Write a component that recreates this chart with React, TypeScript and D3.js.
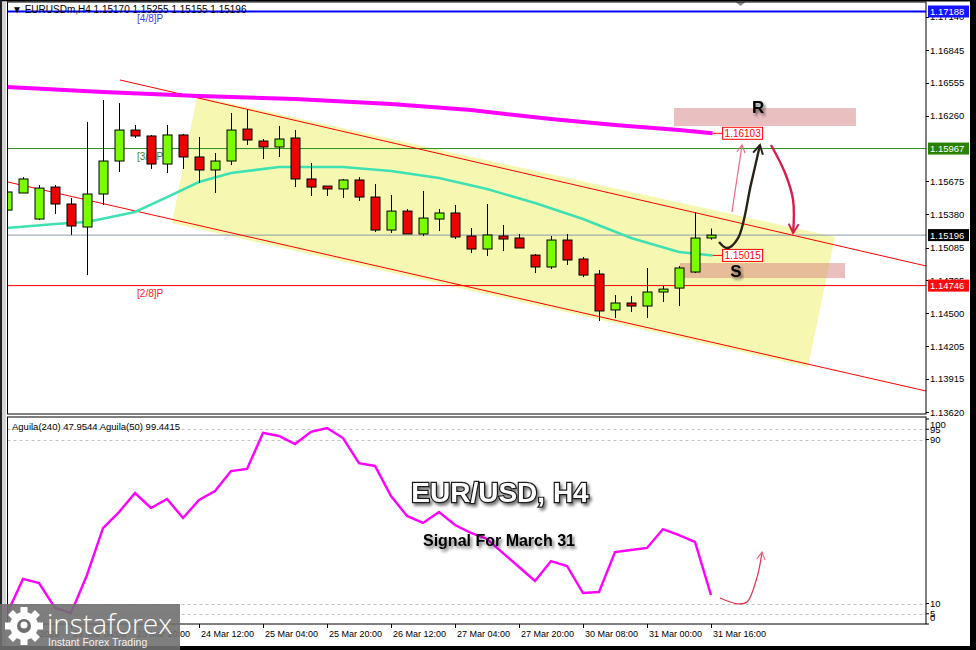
import { scaleLinear, line, curveCatmullRom, curveLinear } from 'd3';

// OHLC per H4 bar, 20 Mar 2020 .. 31 Mar 16:00
const candles: [number, number, number, number][] = [
  [1.15419, 1.15713, 1.15402, 1.1558],
  [1.15571, 1.15713, 1.15571, 1.15696],
  [1.15339, 1.15642, 1.1533, 1.15615],
  [1.15624, 1.15642, 1.15384, 1.15473],
  [1.15473, 1.15526, 1.15197, 1.15277],
  [1.15268, 1.16204, 1.1484, 1.15562],
  [1.15562, 1.164, 1.15464, 1.15856],
  [1.15856, 1.16372, 1.15758, 1.16132],
  [1.16132, 1.16177, 1.16061, 1.16079],
  [1.16079, 1.16088, 1.15785, 1.15829],
  [1.15829, 1.16177, 1.15749, 1.16088],
  [1.16088, 1.16097, 1.15785, 1.15892],
  [1.15892, 1.1607, 1.1566, 1.15776],
  [1.15776, 1.15927, 1.15571, 1.15856],
  [1.15856, 1.16284, 1.1582, 1.16132],
  [1.16141, 1.16319, 1.15999, 1.16043],
  [1.16034, 1.16052, 1.15874, 1.15981],
  [1.15981, 1.16168, 1.15892, 1.16052],
  [1.16061, 1.16132, 1.15624, 1.15696],
  [1.15696, 1.15838, 1.15544, 1.15624],
  [1.15633, 1.15633, 1.15544, 1.15607],
  [1.15607, 1.15696, 1.15526, 1.15687],
  [1.15687, 1.15713, 1.155, 1.15535],
  [1.15535, 1.15651, 1.15223, 1.15241],
  [1.15241, 1.15553, 1.15215, 1.1541],
  [1.1541, 1.15428, 1.15206, 1.15206],
  [1.15206, 1.15589, 1.15188, 1.15348],
  [1.15339, 1.15428, 1.15232, 1.15393],
  [1.15393, 1.15464, 1.15161, 1.15179],
  [1.15188, 1.15259, 1.15036, 1.15072],
  [1.15072, 1.15473, 1.1501, 1.15197],
  [1.15188, 1.15286, 1.15054, 1.15161],
  [1.1517, 1.15206, 1.15081, 1.15081],
  [1.15018, 1.15027, 1.14858, 1.14912],
  [1.14912, 1.15188, 1.14894, 1.15152],
  [1.15152, 1.15206, 1.1493, 1.14974],
  [1.14983, 1.15001, 1.14822, 1.1484],
  [1.14849, 1.14885, 1.1443, 1.1452],
  [1.14529, 1.14662, 1.14457, 1.14591],
  [1.14591, 1.14653, 1.14511, 1.14564],
  [1.14564, 1.14903, 1.14457, 1.14689],
  [1.14689, 1.14742, 1.146, 1.14715],
  [1.14724, 1.14921, 1.14564, 1.14903],
  [1.14867, 1.15402, 1.14858, 1.1517],
  [1.1517, 1.15255, 1.15155, 1.15196],
];

// slow MA (magenta) and fast MA (teal), [bar, price]
const slowMa: [number, number][] = [
  [0, 1.16515], [6, 1.16471], [12, 1.16435], [18, 1.16408], [24, 1.16364],
  [29, 1.1631], [34, 1.1623], [38, 1.16177], [42, 1.16132], [44.1, 1.16103],
];
const fastMa: [number, number][] = [
  [0, 1.15259], [3, 1.15295], [5, 1.15312], [8, 1.15402], [10, 1.15535],
  [12, 1.15669], [14, 1.15749], [17, 1.15803], [21, 1.15803], [24, 1.15767],
  [27, 1.15705], [30, 1.15607], [33, 1.15482], [36, 1.15339], [39, 1.1517],
  [42, 1.15045], [44.1, 1.15015],
];

// Aguila oscillator per bar
const aguila = [
  5, 22, 20, 7.8, 5.4, 23.9, 46.8, 54.6, 63.9, 56.6, 61, 51.7, 60.5, 64.9, 74.6,
  75.6, 93.2, 91.7, 87.8, 93.7, 95.6, 90.7, 78.5, 77.1, 62.4, 52.7, 49.3, 54.6,
  48.3, 44.4, 41.5, 34.6, 27.8, 21, 30.7, 28.3, 15.1, 15.6, 35.1, 36.1, 37.1,
  46.3, 43.4, 40, 14.1,
];

const timeLabels = [
  '20 Mar 2020', '23 Mar 04:00', '23 Mar 20:00', '24 Mar 12:00', '25 Mar 04:00',
  '25 Mar 20:00', '26 Mar 12:00', '27 Mar 04:00', '27 Mar 20:00', '30 Mar 08:00',
  '31 Mar 00:00', '31 Mar 16:00',
];
const priceTicks = [
  1.1714, 1.16845, 1.16555, 1.1626, 1.15675, 1.1538, 1.15085, 1.14795, 1.145,
  1.14205, 1.13915, 1.1362,
];
const oscTicks = [100, 95, 90, 10, 5, 0];
const oscLevels = [95, 90, 10, 5];

// horizontal levels: murrey 4/8, 3/8, bid, 2/8
const levelPrices = [1.17188, 1.15967, 1.15196, 1.14746];
const levelNames = ['[4/8]P', '[3/8]P', '', '[2/8]P'];
const LEVEL_LINE = ['#0000ff', '#2f8f1f', '#8a99a6', '#ff0000'];
const LEVEL_BOX = ['#1414ff', '#2a8200', '#000000', '#ff0a0a'];
const LEVEL_TEXT = ['#3c3cff', '#3a8a1a', '', '#ff2020'];

// channel, [bar, price]
const upperChannel: [number, number][] = [[7.06, 1.16578], [57.44, 1.14921]];
const lowerChannel: [number, number][] = [[0.06, 1.15669], [57.44, 1.13807]];
const channelFill: [number, number][] = [
  [11.88, 1.16435], [51.75, 1.15179], [50.06, 1.14021], [10.31, 1.15304],
];
const resistanceZone = [41.69, 53.06, 1.16168, 1.16328];
const supportZone = [42.06, 52.38, 1.14813, 1.14947];

const pinkArrow: [number, number][] = [[45.31, 1.15402], [45.94, 1.15999]];
const blackArrow: [number, number][] = [
  [44.5, 1.15134], [45.0, 1.15081], [45.69, 1.1517], [46.5, 1.1565], [47.06, 1.15999],
];
const redArrow: [number, number][] = [
  [47.75, 1.15999], [48.63, 1.15749], [49.13, 1.15509], [49.13, 1.15215],
];
const oscArrow: [number, number][] = [
  [44.56, 12.7], [45.69, 9.8], [46.25, 10.7], [46.88, 22.9], [47.19, 35.1],
];

const LEFT = 7.5;
const RIGHT = 926;
const MAIN_TOP = 2;
const MAIN_BOTTOM = 414;
const OSC_TOP = 417;
const OSC_BOTTOM = 624;
const FONT = '"Liberation Sans", Arial, sans-serif';

export default function App() {
  const x = scaleLinear().domain([0, 44]).range([7, 711]);
  const y = scaleLinear().domain([1.1362, 1.16845]).range([412, 50]);
  const yo = scaleLinear().domain([0, 100]).range([624, 419]);
  const priceLine = line<[number, number]>()
    .x((d) => x(d[0]))
    .y((d) => y(d[1]));
  const priceCurve = line<[number, number]>()
    .x((d) => x(d[0]))
    .y((d) => y(d[1]))
    .curve(curveCatmullRom);
  const oscLine = line<number>()
    .x((_d, i) => x(i))
    .y((d) => yo(d))
    .curve(curveLinear);
  const oscCurve = line<[number, number]>()
    .x((d) => x(d[0]))
    .y((d) => yo(d[1]))
    .curve(curveCatmullRom);

  const slowEnd = slowMa[slowMa.length - 1];
  const fastEnd = fastMa[fastMa.length - 1];
  const endX = x(slowEnd[0]);

  const bodyW = 9;

  return (
    <div style={{ position: 'absolute', left: 0, top: 0 }}>
      <svg width={976} height={650} style={{ display: 'block', fontFamily: FONT }}>
        <defs>
          <clipPath id="mainClip">
            <rect x={LEFT} y={MAIN_TOP} width={RIGHT - LEFT} height={MAIN_BOTTOM - MAIN_TOP} />
          </clipPath>
          <clipPath id="oscClip">
            <rect x={LEFT} y={OSC_TOP} width={RIGHT - LEFT} height={OSC_BOTTOM - OSC_TOP} />
          </clipPath>
          <filter id="shadow" x="-20%" y="-40%" width="140%" height="180%">
            <feDropShadow dx="2" dy="2.5" stdDeviation="1.4" floodColor="#000" floodOpacity="0.55" />
          </filter>
          <marker id="headBlack" viewBox="0 0 12 12" refX="10" refY="6" markerWidth="12" markerHeight="12" markerUnits="userSpaceOnUse" orient="auto">
            <path d="M1,1 L10,6 L1,11" fill="none" stroke="#2a2418" strokeWidth={2} />
          </marker>
          <marker id="headRed" viewBox="0 0 12 12" refX="10" refY="6" markerWidth="12" markerHeight="12" markerUnits="userSpaceOnUse" orient="auto">
            <path d="M1,1 L10,6 L1,11" fill="none" stroke="#d81e4a" strokeWidth={2} />
          </marker>
          <marker id="headPink" viewBox="0 0 12 12" refX="10" refY="6" markerWidth="10" markerHeight="10" markerUnits="userSpaceOnUse" orient="auto">
            <path d="M1,1 L10,6 L1,11" fill="none" stroke="#ee6a84" strokeWidth={1.4} />
          </marker>
        </defs>

        {/* window frame */}
        <rect x={0} y={0} width={976} height={650} fill="#fff" />
        <rect x={0} y={0} width={976} height={1.5} fill="#000" />
        <rect x={0} y={0} width={2} height={650} fill="#222" />
        <rect x={2} y={1.5} width={4} height={645} fill="#d4d4d4" />
        <rect x={970} y={0} width={6} height={650} fill="#000" />
        <rect x={0} y={646} width={976} height={4} fill="#000" />
        <path d="M735,1.5 L746,1.5 L740.5,6 Z" fill="#8a8a8a" />

        {/* main pane */}
        <g clipPath="url(#mainClip)">
          <polygon
            points={channelFill.map((d) => `${x(d[0])},${y(d[1])}`).join(' ')}
            fill="#f6f8b2"
          />
          {levelPrices.map((p, i) => (
            <line key={`lv${i}`} x1={LEFT} x2={RIGHT} y1={y(p)} y2={y(p)} stroke={LEVEL_LINE[i]} strokeWidth={i === 0 ? 2 : 1} />
          ))}
          {levelNames.map((n, i) =>
            n ? (
              <text key={`ln${i}`} x={x(8.13)} y={y(levelPrices[i]) + 11} fontSize={10} fill={LEVEL_TEXT[i]}>
                {n}
              </text>
            ) : null,
          )}
          <rect
            x={x(resistanceZone[0])}
            y={y(resistanceZone[3])}
            width={x(resistanceZone[1]) - x(resistanceZone[0])}
            height={y(resistanceZone[2]) - y(resistanceZone[3])}
            fill="rgba(214,128,128,0.5)"
          />
          <rect
            x={x(supportZone[0])}
            y={y(supportZone[3])}
            width={x(supportZone[1]) - x(supportZone[0])}
            height={y(supportZone[2]) - y(supportZone[3])}
            fill="rgba(214,128,128,0.5)"
          />
          <path d={priceLine(upperChannel) ?? ''} fill="none" stroke="#ff0000" strokeWidth={1} />
          <path d={priceLine(lowerChannel) ?? ''} fill="none" stroke="#ff0000" strokeWidth={1} />
          <path d={priceLine(slowMa) ?? ''} fill="none" stroke="#ff00ff" strokeWidth={4} />
          <path d={priceLine(fastMa) ?? ''} fill="none" stroke="#3fe0b2" strokeWidth={2.5} />

          {candles.map(([o, h, l, c], i) => {
            const cx = Math.round(x(i));
            const top = y(Math.max(o, c));
            const bot = y(Math.min(o, c));
            return (
              <g key={`c${i}`}>
                <line x1={cx + 0.5} x2={cx + 0.5} y1={y(h)} y2={y(l)} stroke="#000" strokeWidth={1} />
                <rect
                  x={cx - bodyW / 2 + 0.5}
                  y={top}
                  width={bodyW}
                  height={Math.max(bot - top, 1.5)}
                  fill={c >= o ? '#7cfc00' : '#ee0000'}
                  stroke="#000"
                  strokeWidth={1}
                />
              </g>
            );
          })}

          {/* MA end labels */}
          <line x1={endX} x2={endX + 10} y1={y(slowEnd[1])} y2={y(slowEnd[1])} stroke="#ff0000" />
          <rect x={endX + 10} y={y(slowEnd[1]) - 6} width={40} height={12} fill="#fff" stroke="#ff0000" />
          <text x={endX + 12} y={y(slowEnd[1]) + 4} fontSize={10} fill="#ff0000">{slowEnd[1].toFixed(5)}</text>
          <line x1={endX} x2={endX + 10} y1={y(fastEnd[1])} y2={y(fastEnd[1])} stroke="#ff0000" />
          <rect x={endX + 10} y={y(fastEnd[1]) - 6} width={40} height={12} fill="#fff" stroke="#ff0000" />
          <text x={endX + 12} y={y(fastEnd[1]) + 4} fontSize={10} fill="#ff0000">{fastEnd[1].toFixed(5)}</text>

          {/* forecast arrows */}
          <path d={priceLine(pinkArrow) ?? ''} fill="none" stroke="#ee6a84" strokeWidth={1.2} markerEnd="url(#headPink)" />
          <path d={priceCurve(blackArrow) ?? ''} fill="none" stroke="#2a2418" strokeWidth={2.4} markerEnd="url(#headBlack)" />
          <path d={priceCurve(redArrow) ?? ''} fill="none" stroke="#d81e4a" strokeWidth={2.4} markerEnd="url(#headRed)" />

          <text x={x(46.94)} y={y(1.16284)} fontSize={17} fontWeight="bold" textAnchor="middle" filter="url(#shadow)">R</text>
          <text x={x(45.56)} y={y(1.14822)} fontSize={17} fontWeight="bold" textAnchor="middle" filter="url(#shadow)">S</text>
        </g>
        <rect x={LEFT} y={MAIN_TOP} width={RIGHT - LEFT} height={MAIN_BOTTOM - MAIN_TOP} fill="none" stroke="#000" />
        <text x={12} y={13} fontSize={10} fill="#000">▼ EURUSDm,H4  1.15170 1.15255 1.15155 1.15196</text>

        {/* price axis */}
        {priceTicks.map((p) => (
          <g key={`pt${p}`}>
            <line x1={RIGHT} x2={RIGHT + 3} y1={Math.round(y(p)) + 0.5} y2={Math.round(y(p)) + 0.5} stroke="#000" />
            <text x={RIGHT + 4} y={y(p) + 3.5} fontSize={9.5} fill="#000">{p.toFixed(5)}</text>
          </g>
        ))}
        {levelPrices.map((p, i) => (
          <g key={`lb${i}`}>
            <rect x={RIGHT + 2} y={y(p) - 6} width={41} height={12} fill={LEVEL_BOX[i]} />
            <text x={RIGHT + 4} y={y(p) + 3.5} fontSize={9.5} fill="#fff">{p.toFixed(5)}</text>
          </g>
        ))}

        {/* oscillator pane */}
        <g clipPath="url(#oscClip)">
          {oscLevels.map((v) => (
            <line key={`ol${v}`} x1={LEFT} x2={RIGHT} y1={Math.round(yo(v)) + 0.5} y2={Math.round(yo(v)) + 0.5} stroke="#c4c4c4" strokeDasharray="3,3" />
          ))}
          <path d={oscLine(aguila) ?? ''} fill="none" stroke="#ff00ff" strokeWidth={2.4} />
          <path d={oscCurve(oscArrow) ?? ''} fill="none" stroke="#e0304a" strokeWidth={1.2} markerEnd="url(#headPink)" />
        </g>
        <rect x={LEFT} y={OSC_TOP} width={RIGHT - LEFT} height={OSC_BOTTOM - OSC_TOP} fill="none" stroke="#000" />
        <text x={12} y={430} fontSize={9.5} fill="#000">Aguila(240) 47.9544  Aguila(50) 99.4415</text>
        {oscTicks.map((v) => {
          const ty = Math.min(Math.max(yo(v), 424), 617);
          return (
            <g key={`ot${v}`}>
              <line x1={RIGHT} x2={RIGHT + 3} y1={yo(v)} y2={yo(v)} stroke="#000" />
              <text x={RIGHT + 4} y={ty + 3.5} fontSize={9.5} fill="#000">{v}</text>
            </g>
          );
        })}

        {/* time axis */}
        {timeLabels.map((t, i) => (
          <g key={`tl${i}`}>
            <line x1={Math.round(x(i * 4)) + 0.5} x2={Math.round(x(i * 4)) + 0.5} y1={OSC_BOTTOM} y2={OSC_BOTTOM + 4} stroke="#000" />
            <text x={x(i * 4) + 2} y={637} fontSize={9} fill="#000">{t}</text>
          </g>
        ))}

        {/* titles */}
        <text x={500} y={502} fontSize={28} fontWeight="bold" textAnchor="middle" fill="#fff" stroke="#1a1a1a" strokeWidth={2.4} paintOrder="stroke" filter="url(#shadow)">
          EUR/USD, H4
        </text>
        <text x={499} y={546} fontSize={16} fontWeight="bold" textAnchor="middle" fill="#000" filter="url(#shadow)">
          Signal For March 31
        </text>

        {/* logo */}
        <g>
          <rect x={0} y={604} width={180} height={46} fill="#707070" opacity={0.9} />
          <g transform="translate(24,626)" fill="#fff">
            {[0, 45, 90, 135, 180, 225, 270, 315].map((a) => (
              <rect key={`g${a}`} x={-3.5} y={-19} width={7} height={8} transform={`rotate(${a})`} />
            ))}
            <circle r={14} />
            <circle r={7} fill="#707070" />
            <circle r={3.5} cy={-1} />
          </g>
          <text x={47} y={634} fontSize={28} fill="#fff" fontFamily='"Open Sans", "Liberation Sans", sans-serif' fontWeight={300}>instaforex</text>
          <text x={48} y={646} fontSize={10.5} fill="#f0f0f0">Instant Forex Trading</text>
        </g>
      </svg>
    </div>
  );
}
